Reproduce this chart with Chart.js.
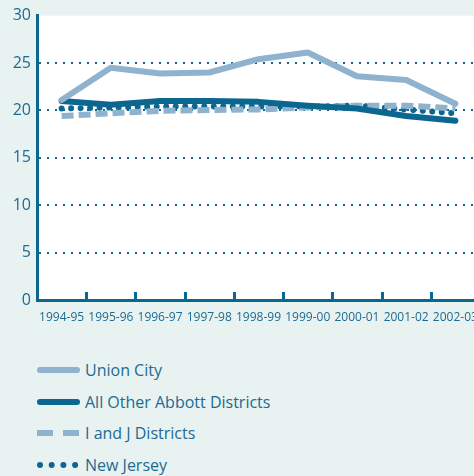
<!DOCTYPE html>
<html>
<head>
<meta charset="utf-8">
<script src="https://cdn.jsdelivr.net/npm/chart.js@4/dist/chart.umd.min.js"></script>
<style>
  html, body { margin: 0; padding: 0; background: #e8f2f1; width: 474px; height: 476px; overflow: hidden; }
  #wrap { position: absolute; left: 0; top: 0; width: 474px; height: 330px; overflow: hidden; }
  #box { width: 500px; height: 330px; position: relative; }
  #legend { position: absolute; left: 37px; top: 354px; font-family: "Open Sans", sans-serif; font-size: 16px; color: #1b6b92; }
  .row { height: 31.8px; display: flex; align-items: center; }
  .row svg { margin-right: 5px; }
</style>
</head>
<body>
<div id="wrap"><div id="box"><canvas id="c"></canvas></div></div>
<div id="legend"></div>
<script>
const categories = ["1994-95","1995-96","1996-97","1997-98","1998-99","1999-00","2000-01","2001-02","2002-03"];
const seriesNames = ["Union City","All Other Abbott Districts","I and J Districts","New Jersey"];
const unionCity = [21.1, 24.5, 23.9, 24.0, 25.4, 26.1, 23.6, 23.2, 20.7];
const otherAbbott = [21.0, 20.6, 21.0, 21.0, 20.9, 20.5, 20.2, 19.4, 18.9];
const iAndJ = [19.4, 19.7, 19.95, 20.05, 20.1, 20.3, 20.5, 20.5, 20.2];
const newJersey = [20.2, 20.3, 20.4, 20.4, 20.4, 20.4, 20.5, 20.1, 19.7];
const yTicks = [0, 5, 10, 15, 20, 25, 30];

const LIGHT = "#8fb3cf";
const DARK = "#0b6690";
const TEXT = "#1b6b92";

const datasets = [
  { label: seriesNames[0], data: unionCity, borderColor: LIGHT, borderWidth: 6, borderCapStyle: "round", borderJoinStyle: "round" },
  { label: seriesNames[1], data: otherAbbott, borderColor: DARK, borderWidth: 6, borderCapStyle: "round", borderJoinStyle: "round" },
  { label: seriesNames[2], data: iAndJ, borderColor: LIGHT, borderWidth: 6, borderDash: [12, 5], borderCapStyle: "butt" },
  { label: seriesNames[3], data: newJersey, borderColor: DARK, borderWidth: 6, borderDash: [0.01, 9.5], borderCapStyle: "round" }
];
datasets.forEach(d => { d.pointRadius = 0; d.pointHoverRadius = 0; d.tension = 0; d.fill = false; });

const plugin = {
  id: "deco",
  beforeDraw(chart) {
    const a = chart.chartArea, ctx = chart.ctx;
    ctx.save();
    ctx.fillStyle = "#ffffff";
    ctx.fillRect(a.left, a.top, a.right - a.left, a.bottom - a.top);
    ctx.restore();
  },
  afterDatasetsDraw(chart) {
    const x = chart.scales.x, a = chart.chartArea, ctx = chart.ctx;
    ctx.save();
    ctx.strokeStyle = DARK;
    ctx.lineWidth = 3;
    for (let i = 1; i < categories.length; i++) {
      const px = Math.round((x.getPixelForValue(i - 1) + x.getPixelForValue(i)) / 2) + 0.5;
      ctx.beginPath();
      ctx.moveTo(px, a.bottom - 8);
      ctx.lineTo(px, a.bottom);
      ctx.stroke();
    }
    ctx.restore();
  }
};

const chart = new Chart(document.getElementById("c"), {
  type: "line",
  data: { labels: categories, datasets },
  plugins: [plugin],
  options: {
    responsive: true,
    maintainAspectRatio: false,
    animation: false,
    layout: { padding: { left: 0, top: 12, right: 20, bottom: 0 } },
    plugins: { legend: { display: false }, tooltip: { enabled: false } },
    scales: {
      x: {
        offset: true,
        grid: { drawOnChartArea: false, drawTicks: false, offset: true },
        border: { display: true, color: DARK, width: 3 },
        ticks: { color: TEXT, font: { family: "Open Sans", size: 12 }, padding: 10, maxRotation: 0, autoSkip: false },
        afterFit(s) { s.height = 30; }
      },
      y: {
        min: 0, max: 30,
        afterBuildTicks(s) { s.ticks = yTicks.map(v => ({ value: v })); },
        grid: {
          drawTicks: false,
          lineWidth: 2,
          color: ctx => (ctx.tick && (ctx.tick.value === 0 || ctx.tick.value === 30)) ? "rgba(0,0,0,0)" : DARK
        },
        border: { display: true, color: DARK, width: 3, dash: [2, 6] },
        ticks: { color: TEXT, font: { family: "Open Sans", size: 16 }, padding: 6 },
        afterFit(s) { s.width = 37; }
      }
    }
  }
});

// HTML legend built from the datasets
const legend = document.getElementById("legend");
chart.data.datasets.forEach(d => {
  const row = document.createElement("div");
  row.className = "row";
  const ns = "http://www.w3.org/2000/svg";
  const svg = document.createElementNS(ns, "svg");
  svg.setAttribute("width", "43"); svg.setAttribute("height", "10");
  const ln = document.createElementNS(ns, "line");
  ln.setAttribute("y1", "5"); ln.setAttribute("y2", "5");
  ln.setAttribute("stroke", d.borderColor);
  ln.setAttribute("stroke-width", d.borderWidth);
  if (d.borderDash && d.borderDash[0] < 1) {
    ln.setAttribute("x1", "3"); ln.setAttribute("x2", "42");
    ln.setAttribute("stroke-dasharray", "0 11.7");
    ln.setAttribute("stroke-linecap", "round");
  } else if (d.borderDash) {
    ln.setAttribute("x1", "0"); ln.setAttribute("x2", "43");
    ln.setAttribute("stroke-dasharray", "16 10");
  } else {
    ln.setAttribute("x1", "3"); ln.setAttribute("x2", "40");
    ln.setAttribute("stroke-linecap", "round");
  }
  svg.appendChild(ln);
  row.appendChild(svg);
  const t = document.createElement("span");
  t.textContent = d.label;
  row.appendChild(t);
  legend.appendChild(row);
});
</script>
</body>
</html>
